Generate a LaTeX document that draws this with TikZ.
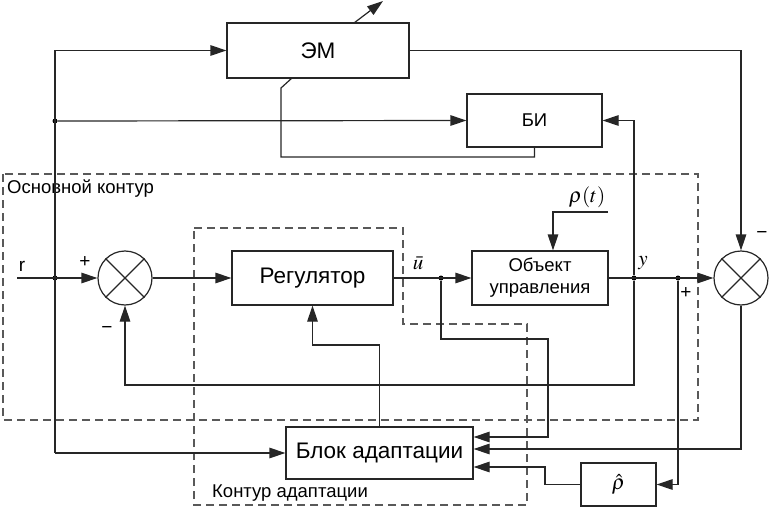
\documentclass[tikz,border=0pt]{standalone}
\usepackage{mathptmx}
\usepackage{fontspec}
\setmainfont{Liberation Sans}
\usetikzlibrary{arrows.meta,calc}
\begin{document}
\begin{tikzpicture}[x=1pt,y=-1pt,
  ln/.style={line width=1.2pt,draw=black!85},
  arr/.style={ln,-{Triangle[length=16pt,width=10.5pt]}},
  blk/.style={ln,rectangle,inner sep=0pt},
  sumc/.style={ln,circle,minimum size=54pt,inner sep=0pt},
  dotn/.style={circle,fill=black,inner sep=0pt,minimum size=5pt},
  dbox/.style={line width=1.3pt,draw=black!65,dash pattern=on 8pt off 5pt},
  big/.style={font=\fontsize{22.5}{26}\selectfont},
  mid/.style={font=\fontsize{18.5}{22}\selectfont},
  lab/.style={font=\fontsize{19}{22}\selectfont,inner sep=0pt},
  mlab/.style={font=\fontsize{21}{24}\selectfont,inner sep=0pt}
]
\useasboundingbox (0,0) rectangle (773,508);

% dashed contours
\draw[dbox] (3,174) rectangle (698,420);
\draw[dbox] (194,228) -- (403,228) -- (403,324) -- (527,324) -- (527,505) -- (194,505) -- cycle;
\node[mid,anchor=west,inner sep=0pt] (lmain) at (7,189) {Основной контур};
\node[mid,anchor=west,inner sep=0pt] (ladapt) at (212,493) {Контур адаптации};

% blocks
\node[blk,big,minimum width=182pt,minimum height=55pt] (EM) at (318,50.5) {ЭМ};
\node[blk,mid,minimum width=135pt,minimum height=53pt] (BI) at (534.5,120.5) {БИ};
\node[sumc] (s1) at (125,278) {};
\node[blk,big,minimum width=161pt,minimum height=54pt] (reg) at (312.5,278) {Регулятор};
\node[blk,mid,minimum width=136pt,minimum height=54pt,align=center] (obj) at (540,278) {Объект\\управления};
\node[sumc] (s2) at (741,278) {};
\node[blk,big,minimum width=187pt,minimum height=52pt] (ada) at (379.5,453) {Блок адаптации};
\node[blk,mlab,minimum width=75pt,minimum height=43pt] (rho) at (618.5,484.5) {$\hat{\rho}$};

% crosses in summing junctions
\draw[ln] (s1.north west) -- (s1.south east) (s1.north east) -- (s1.south west);
\draw[ln] (s2.north west) -- (s2.south east) (s2.north east) -- (s2.south west);

% coordinates
\coordinate (L1) at (55,50.5);
\coordinate (L2) at (55,453);
\node[dotn] (d1) at (55,121) {};
\node[dotn] (d2) at (55,278) {};
\coordinate (rin) at (17,278);
\node[dotn] (du) at (441,278) {};
\node[dotn] (dy) at (634,278) {};
\node[dotn] (dp) at (678,278) {};
\coordinate (rt) at (608,212);
\coordinate (rtc) at (553,212);
\coordinate (fb) at (634,385);
\coordinate (pc) at (678,484.5);
\coordinate (ua) at (441,339);
\coordinate (ub) at (548,339);
\coordinate (ra) at (545,484.5);
\coordinate (em1) at (354,23);
\coordinate (em2) at (383,1);
\coordinate (emb) at (292,78);
\coordinate (emc) at (281,88);
\coordinate (bic) at (281,157);
\coordinate (ac) at (379.5,345);

% left distribution line
\draw[arr] (L1) -- (EM.west);
\draw[ln] (L1) -- (L2);
\draw[arr] (L2) -- (ada.west);
\draw[arr] (d1) -- (BI.west);
\draw[arr] (rin) -- (s1.west);

% EM
\draw[arr] (EM.east) -| (s2.north);
\draw[arr] (em1) -- (em2);
\draw[ln] (BI.south) |- (bic) -- (emc) -- (emb);

% main loop
\draw[arr] (s1.east) -- (reg.west);
\draw[arr] (reg.east) -- (obj.west);
\draw[arr] (obj.east) -- (s2.west);
\draw[arr] (rt) -- (rtc) -- (rtc |- obj.north);
\draw[arr] (dy) |- (BI.east);
\draw[arr] (dy) -- (fb) -| (s1.south);

% adaptation
\draw[arr] (dp) -- (pc) -- (rho.east);
\draw[arr] (rho.west) -- (ra) -- (ra |- 0,467) -- ($(ada.east)+(0,14)$);
\draw[arr] (du) -- (ua) -- (ub) -- (ub |- 0,437) -- ($(ada.east)+(0,-16)$);
\draw[arr] (s2.south) |- ($(ada.east)+(0,-4)$);
\draw[arr] (ada.north) -- (ac) -| (reg.south);

% labels
\node[lab] (lr) at (22,266) {r};
\node[lab] (lp1) at (85,262) {+};
\node[lab] (lm1) at (107,330) {−};
\node[lab] (lm2) at (762,235) {−};
\node[lab] (lp2) at (686,293) {+};
\node[mlab] (lu) at (418,263) {$\bar{u}$};
\node[mlab] (ly) at (643,263) {$y$};
\node[mlab] (lrt) at (587,197) {$\rho(t)$};
\end{tikzpicture}
\end{document}
